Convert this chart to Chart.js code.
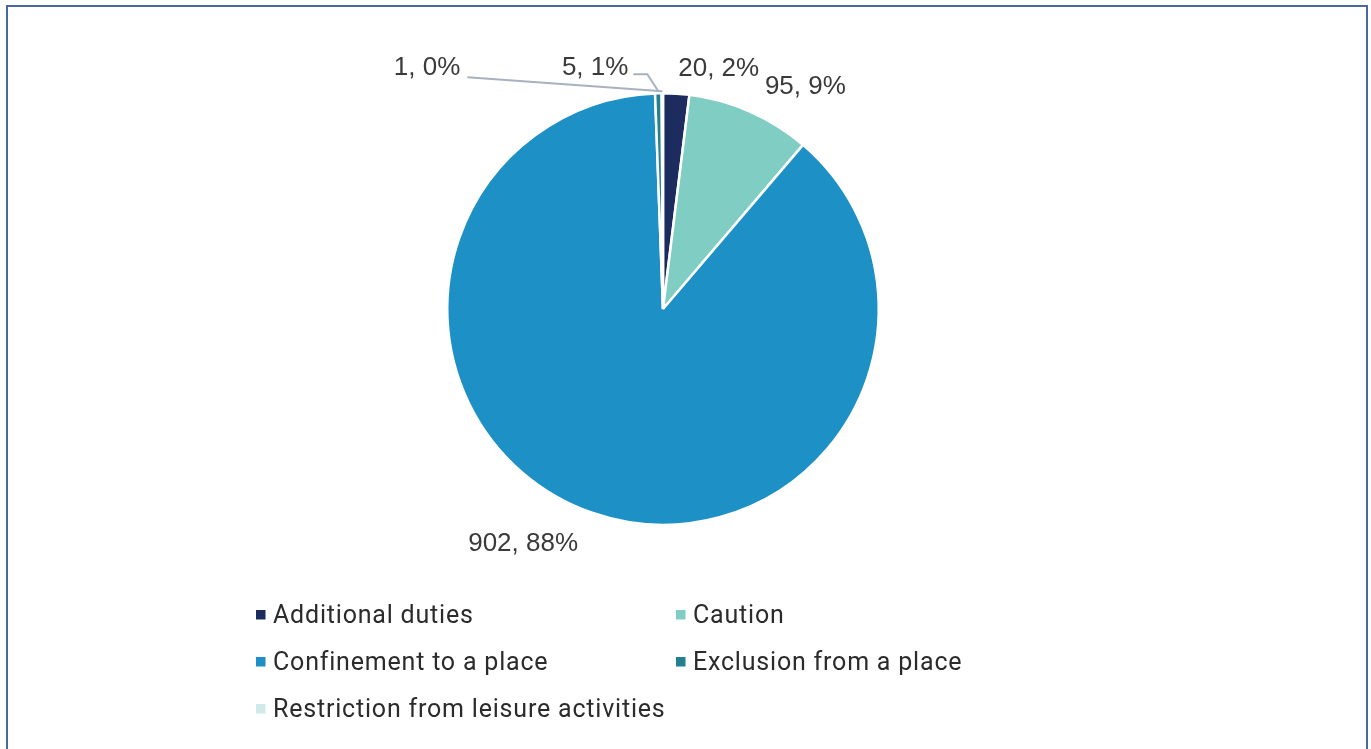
<!DOCTYPE html>
<html>
<head>
<meta charset="utf-8">
<script src="https://cdn.jsdelivr.net/npm/chart.js@4.4.1/dist/chart.umd.min.js"></script>
<style>
  html, body { margin: 0; padding: 0; background: #ffffff; overflow: hidden; }
  #frame {
    position: absolute; left: 6px; top: 5px; width: 1358px; height: 800px;
    border: 2px solid #4a67a1; box-sizing: content-box;
  }
  #wrap { position: absolute; left: 0; top: 0; width: 1371px; height: 749px; }
</style>
</head>
<body>
<div id="frame"></div>
<div id="wrap"><canvas id="chart" width="1371" height="749"></canvas></div>
<script>
// Punishment types and counts
const categories = [
  'Additional duties',
  'Caution',
  'Confinement to a place',
  'Exclusion from a place',
  'Restriction from leisure activities'
];
const counts = [20, 95, 902, 5, 1];
const percentLabels = ['2%', '9%', '88%', '1%', '0%'];
const sliceColors = ['#1d2c5e', '#80cdc3', '#1d90c6', '#23818f', '#cfeae8'];

// Label placement relative to each slice's outer edge (dx, dy, alignment, leader)
const labelPlacement = [
  { dx: 2,    dy: -25, align: 'left' },
  { dx: 15,   dy: -25, align: 'left' },
  { dx: -69,  dy: 31,  align: 'center' },
  { dx: -30,  dy: -25, align: 'right', leader: [[-11, -19], [-25, -19]] },
  { dx: -202, dy: -25, align: 'right', leader: [[-195, -16]] }
];

const sliceLabels = {
  id: 'sliceLabels',
  afterDatasetsDraw(chart) {
    const ctx = chart.ctx;
    const meta = chart.getDatasetMeta(0);
    meta.data.forEach((arc, i) => {
      const p = arc.getProps(['x', 'y', 'startAngle', 'endAngle', 'outerRadius'], true);
      const mid = (p.startAngle + p.endAngle) / 2;
      const ax = p.x + Math.cos(mid) * p.outerRadius;
      const ay = p.y + Math.sin(mid) * p.outerRadius;
      const pl = labelPlacement[i];
      ctx.save();
      if (pl.leader) {
        ctx.strokeStyle = '#a7b2c0';
        ctx.lineWidth = 2;
        ctx.beginPath();
        ctx.moveTo(p.x + Math.cos(mid) * (p.outerRadius + 2), p.y + Math.sin(mid) * (p.outerRadius + 2));
        pl.leader.forEach(pt => ctx.lineTo(ax + pt[0], ay + pt[1]));
        ctx.stroke();
      }
      ctx.fillStyle = '#3a3a3a';
      ctx.font = '26px "Liberation Sans", Arial, sans-serif';
      ctx.textAlign = pl.align;
      ctx.textBaseline = 'middle';
      ctx.fillText(counts[i] + ', ' + percentLabels[i], ax + pl.dx, ay + pl.dy);
      ctx.restore();
    });
  }
};

// Two-column legend beneath the pie
const gridLegend = {
  id: 'gridLegend',
  afterDraw(chart) {
    const ctx = chart.ctx;
    const colX = [256, 676];
    const rowY = [614.5, 661.5, 708.5];
    const ds = chart.data.datasets[0];
    chart.data.labels.forEach((lab, i) => {
      const x = colX[i % 2];
      const y = rowY[Math.floor(i / 2)];
      ctx.save();
      ctx.fillStyle = ds.backgroundColor[i];
      ctx.fillRect(x, y - 4.5, 9.5, 9.5);
      ctx.fillStyle = '#2b2b2b';
      ctx.font = '25px Roboto, sans-serif';
      ctx.letterSpacing = '0.8px';
      ctx.textAlign = 'left';
      ctx.textBaseline = 'middle';
      ctx.fillText(lab, x + 17, y + 2);
      ctx.restore();
    });
  }
};

new Chart(document.getElementById('chart'), {
  type: 'pie',
  data: {
    labels: categories,
    datasets: [{
      data: counts,
      backgroundColor: sliceColors,
      borderColor: '#ffffff',
      borderWidth: 2.5,
      hoverOffset: 0
    }]
  },
  options: {
    responsive: false,
    animation: false,
    layout: { padding: { top: 92, bottom: 223, left: 0, right: 45 } },
    plugins: {
      legend: { display: false },
      tooltip: { enabled: false }
    }
  },
  plugins: [sliceLabels, gridLegend]
});
</script>
</body>
</html>
